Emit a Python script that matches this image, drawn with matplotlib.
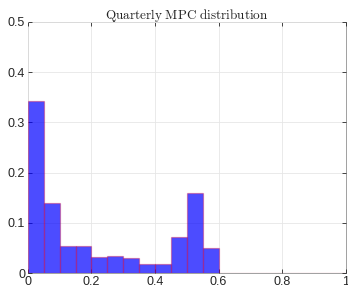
import numpy as np
import matplotlib
matplotlib.use('Agg')
import matplotlib.pyplot as plot

# MPC histogram (bin width 0.05 on [0, 1])
bin_edges = np.linspace(0.0, 1.0, 21)
probs = [0.342, 0.140, 0.054, 0.053, 0.033, 0.034, 0.031, 0.019, 0.019, 0.071,
         0.159, 0.049, 0.0, 0.0, 0.0, 0.0, 0.0, 0.0, 0.0, 0.0]
xticks = [0, 0.2, 0.4, 0.6, 0.8, 1]
yticks = [0, 0.1, 0.2, 0.3, 0.4, 0.5]

plot.rcParams['font.family'] = ['Liberation Sans', 'DejaVu Sans']
plot.rcParams['mathtext.fontset'] = 'cm'

fig = plot.figure(figsize=(3.48, 2.89), dpi=100)
ax = fig.add_axes([0.080, 0.055, 0.914, 0.869])

widths = np.diff(bin_edges)
ax.bar(bin_edges[:-1], probs, width=widths, align='edge',
       facecolor=(0, 0, 1, 0.7), edgecolor=(0.85, 0, 0.2, 0.35), linewidth=0.9, zorder=3)

ax.set_xlim(0, 1)
ax.set_ylim(0, 0.5)
ax.set_xticks(xticks)
ax.set_xticklabels(['0', '0.2', '0.4', '0.6', '0.8', '1'])
ax.set_yticks(yticks)
ax.set_yticklabels(['0', '0.1', '0.2', '0.3', '0.4', '0.5'])
ax.tick_params(direction='in', length=3, width=0.6, labelsize=9, colors='#262626',
               top=True, right=True, pad=2)
ax.grid(True, color='#e6e6e6', linewidth=0.6, zorder=0)
for s in ax.spines.values():
    s.set_color('#a0a0a0')
    s.set_linewidth(0.7)
    s.set_zorder(1)

ax.set_title(r'$\mathrm{Quarterly\ MPC\ distribution}$', fontsize=9.5, pad=2, color='#222222')

plot.savefig('out.png', dpi=100)
